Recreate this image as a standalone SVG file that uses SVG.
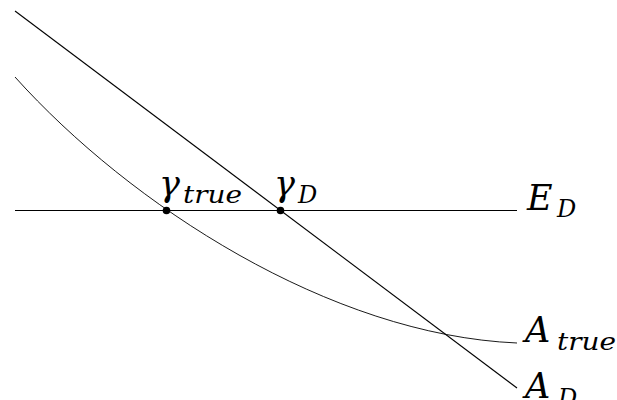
<svg xmlns="http://www.w3.org/2000/svg" width="617" height="400" viewBox="0 0 617 400">
<style>
.ln{fill:none;stroke:#000;stroke-width:1.1}
.hl{fill:none;stroke:#000;stroke-width:1}
.cv{fill:none;stroke:#000;stroke-width:0.9}
.m{font-family:"DejaVu Serif","Liberation Serif",serif;font-style:italic;font-size:35px;fill:#000}
.s{font-family:"DejaVu Serif","Liberation Serif",serif;font-style:italic;font-size:24px;fill:#000}
.dot{fill:#000}
</style>
<rect width="617" height="400" fill="#fff"/>
<g id="connectors">
<line id="E_D-line" class="hl" x1="15" y1="210.5" x2="517" y2="210.5"/>
<line id="A_D-line" class="ln" x1="15" y1="11" x2="517" y2="388"/>
<path id="A_true-curve" class="cv" d="M15,77 C130,205 330,335 517,343"/>
</g>
<g id="gamma_true">
<circle class="dot" cx="166.5" cy="210.5" r="3.8"/>
<text class="m" x="159" y="196">γ</text>
<text class="s" x="183" y="203" textLength="59" lengthAdjust="spacingAndGlyphs">true</text>
</g>
<g id="gamma_D">
<circle class="dot" cx="280.5" cy="210.5" r="3.8"/>
<text class="m" x="274" y="196">γ</text>
<text class="s" x="298" y="203">D</text>
</g>
<g id="E_D">
<text class="m" x="527" y="209.5">E</text>
<text class="s" x="557" y="217">D</text>
</g>
<g id="A_true">
<text class="m" x="525" y="342">A</text>
<text class="s" x="557" y="350" textLength="59" lengthAdjust="spacingAndGlyphs">true</text>
</g>
<g id="A_D">
<text class="m" x="525" y="398">A</text>
<text class="s" x="558" y="406">D</text>
</g>
</svg>
